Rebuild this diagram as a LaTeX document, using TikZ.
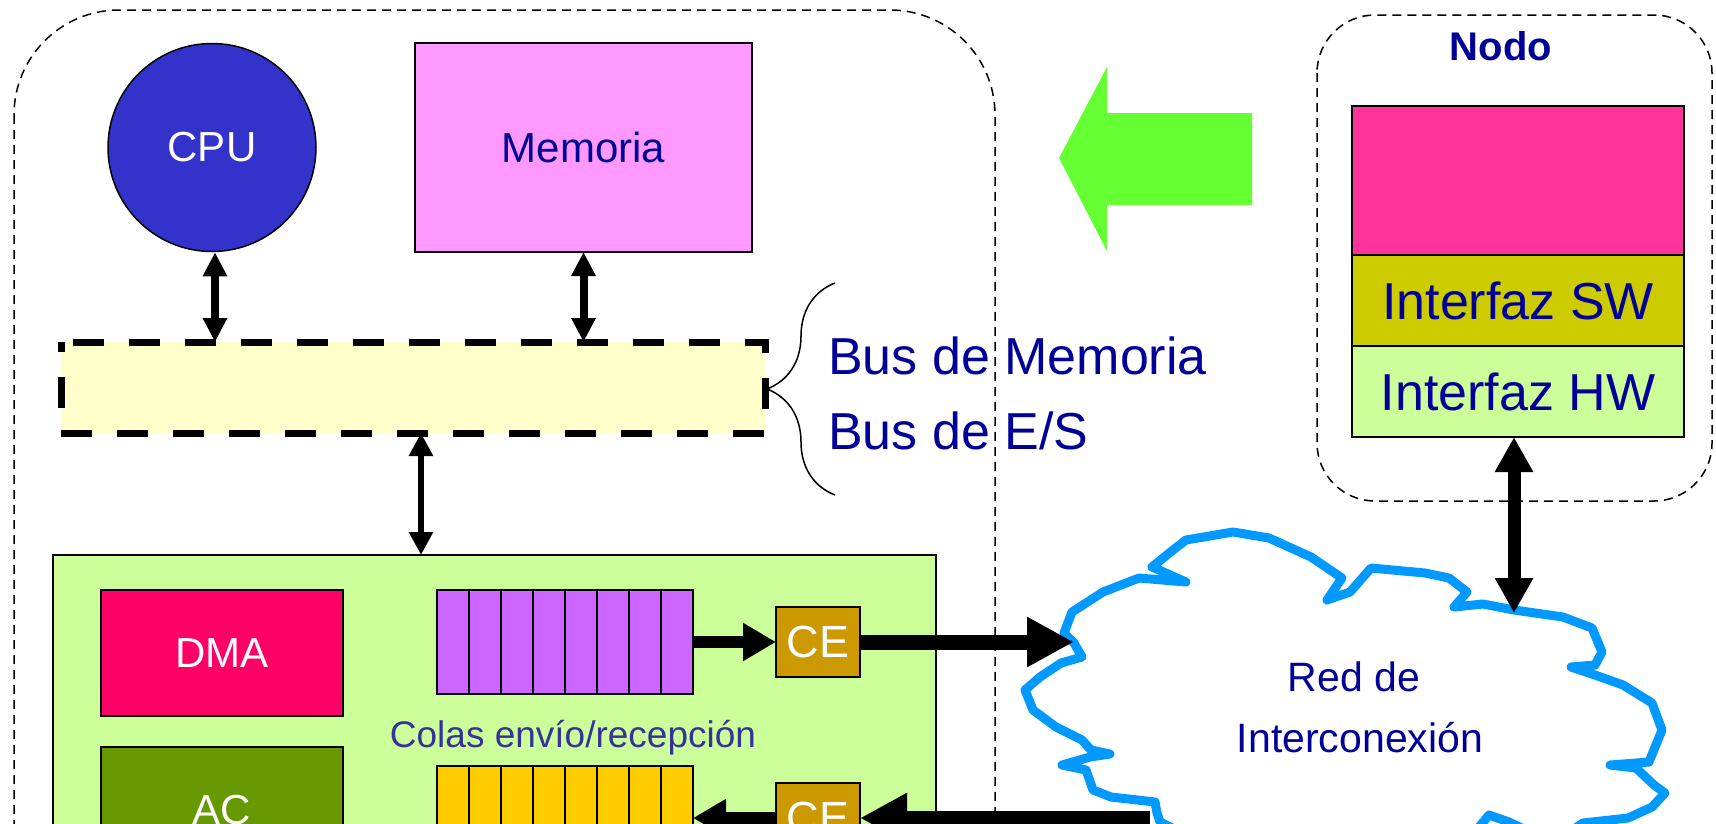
\documentclass[tikz,border=0pt]{standalone}
\usepackage{fontspec}
\setmainfont{Liberation Sans}
\usetikzlibrary{arrows.meta,decorations.pathreplacing,calc}
\definecolor{cpuc}{HTML}{3333CC}
\definecolor{memc}{HTML}{FF99FF}
\definecolor{busc}{HTML}{FFFFCC}
\definecolor{nicc}{HTML}{CCFF99}
\definecolor{dmac}{HTML}{FF0066}
\definecolor{acc}{HTML}{669900}
\definecolor{sqc}{HTML}{CC66FF}
\definecolor{rqc}{HTML}{FFCC00}
\definecolor{cec}{HTML}{CC9900}
\definecolor{bluet}{HTML}{000099}
\definecolor{colasc}{HTML}{333399}
\definecolor{cloudc}{HTML}{0099FF}
\definecolor{greenc}{HTML}{66FF33}
\definecolor{pinkc}{HTML}{FF3399}
\definecolor{swc}{HTML}{CCCC00}
\tikzset{
  box/.style={draw=black, line width=1.5pt, inner sep=0pt, outer sep=0pt},
  whitetxt/.style={text=white, font=\fontsize{42pt}{50pt}\selectfont},
  cetxt/.style={text=white, font=\fontsize{45pt}{50pt}\selectfont},
  bluetxt/.style={text=bluet, font=\fontsize{42pt}{50pt}\selectfont},
  bigtxt/.style={text=bluet, font=\fontsize{52pt}{60pt}\selectfont, inner sep=0pt},
  thindash/.style={line width=1.5pt, dash pattern=on 9pt off 6pt},
  dblsmall/.style={line width=8pt, {Triangle[length=24pt,width=23pt]}-{Triangle[length=24pt,width=23pt]}},
  dblthin/.style={line width=6pt, {Triangle[length=23pt,width=23pt]}-{Triangle[length=23pt,width=23pt]}},
  dblbig/.style={line width=13pt, {Triangle[length=35pt,width=36pt]}-{Triangle[length=35pt,width=36pt]}},
  midarrow/.style={line width=12pt, -{Triangle[length=33pt,width=36pt]}},
  bigarrow/.style={line width=15pt, -{Triangle[length=47pt,width=47pt]}},
}
\begin{document}
\begin{tikzpicture}[x=1pt,y=-1pt]
\useasboundingbox (0,0) rectangle (1716,823);
\fill[white] (0,0) rectangle (1716,823);

% outer node box
\draw[thindash, rounded corners=105pt] (14,10) rectangle (995,950);

% CPU and memory
\node[circle, draw=black, line width=1.5pt, fill=cpuc, minimum size=208pt, inner sep=0pt, whitetxt] (cpu) at (212,147.5) {CPU};
\node[box, fill=memc, minimum width=337pt, minimum height=209pt, bluetxt] (mem) at (583.5,147.5) {Memoria};

% bus
\node[fill=busc, minimum width=704pt, minimum height=91pt, inner sep=0pt, outer sep=0pt] (bus) at (413,387.5) {};
\draw[line width=7pt, dash pattern=on 31pt off 25pt, dash phase=44pt]
  (bus.north west) -- (bus.north east) -- (bus.south east) -- (bus.south west) -- cycle;

\draw[dblsmall] ([xshift=3pt]cpu.south) -- ([xshift=3pt]cpu.south |- bus.north);
\draw[dblsmall] (mem.south) -- (mem.south |- bus.north);

% brace and labels
\draw[line width=1.5pt, decorate, decoration={brace, amplitude=68pt}] (835,495) -- (835,283);
\node[anchor=base west, bigtxt] (busmem) at (828,374) {Bus de Memoria};
\node[anchor=base west, bigtxt] (buses) at (828,449) {Bus de E/S};

% NIC
\node[box, line width=1.2pt, fill=nicc, minimum width=883pt, minimum height=285pt] (nic) at (494.5,697.5) {};
\draw[dblthin] (421,433) coordinate (busout) -- (busout |- nic.north);

\node[box, fill=dmac, minimum width=242pt, minimum height=126pt, whitetxt] (dma) at (222,653) {DMA};
\node[box, fill=acc, minimum width=242pt, minimum height=126pt, whitetxt] (ac) at (222,810) {AC};

\node[box, fill=sqc, minimum width=256pt, minimum height=104pt] (sq) at (565,642) {};
\node[box, fill=rqc, minimum width=256pt, minimum height=104pt] (rq) at (565,818) {};
\foreach \i in {1,...,7} {
  \draw[line width=1.5pt] ($(sq.north west)+(32*\i,0)$) -- ($(sq.south west)+(32*\i,0)$);
  \draw[line width=1.5pt] ($(rq.north west)+(32*\i,0)$) -- ($(rq.south west)+(32*\i,0)$);
}
\node[anchor=base, text=colasc, font=\fontsize{37pt}{44pt}\selectfont, inner sep=0pt] (colas) at (573,747) {Colas envío/recepción};

\node[box, fill=cec, minimum width=84pt, minimum height=70pt, cetxt] (ce1) at (818,642) {CE};
\node[box, fill=cec, minimum width=84pt, minimum height=70pt, cetxt] (ce2) at (818,818) {CE};

% cloud
\draw[cloudc, line width=9pt, line join=round, fill=white]
  (1074,643) -- (1064,633) -- (1072,612) -- (1103,592) -- (1139,578) -- (1186,582)
  -- (1152,567) -- (1173,550) -- (1186,540) -- (1233,532) -- (1269,538) -- (1311,557)
  -- (1342,578) -- (1327,600) -- (1350,592) -- (1371,568) -- (1425,573) -- (1449,578)
  -- (1467,592) -- (1454,607) -- (1483,604) -- (1514,610) -- (1563,617) -- (1592,628)
  -- (1602,652) -- (1595,665) -- (1571,667) -- (1595,675) -- (1623,685) -- (1652,703)
  -- (1662,730) -- (1649,762) -- (1610,765) -- (1636,768) -- (1654,785) -- (1665,793)
  -- (1652,807) -- (1628,818) -- (1583,823) -- (1560,838) -- (1530,832) -- (1509,822)
  -- (1489,815) -- (1470,838) -- (1400,848) -- (1300,852) -- (1200,842) -- (1160,822)
  -- (1157,813) -- (1155,802) -- (1111,797) -- (1093,790) -- (1086,770) -- (1062,765)
  -- (1090,757) -- (1110,754) -- (1091,750) -- (1082,740) -- (1056,727) -- (1033,710)
  -- (1025,690) -- (1040,677) -- (1061,663) -- (1082,657) -- cycle;
\coordinate (cloudW) at (1074,642);
\coordinate (cloudSW) at (1150,818);
\coordinate (cloudtop) at (1514,613);
\node[anchor=base, text=bluet, font=\fontsize{41pt}{50pt}\selectfont, inner sep=0pt] (red1) at (1354,691) {Red de};
\node[anchor=base, text=bluet, font=\fontsize{41pt}{50pt}\selectfont, inner sep=0pt] (red2) at (1360,752) {Interconexión};

% NIC arrows
\draw[midarrow] (sq.east) -- (ce1.west);
\draw[bigarrow] (ce1.east) -- (cloudW);
\draw[bigarrow] (cloudSW) -- (ce2.east);
\draw[midarrow] (ce2.west) -- (rq.east);

% green arrow
\fill[greenc] (1059,158) -- (1107,67) -- (1107,113) -- (1252,113) -- (1252,205) -- (1107,205) -- (1107,251) -- cycle;

% Nodo
\draw[thindash, rounded corners=58pt] (1317,15) rectangle (1712,501);
\node[anchor=base, text=bluet, font=\bfseries\fontsize{40pt}{48pt}\selectfont, inner sep=0pt] (nodo) at (1501,60) {Nodo};
\node[box, fill=pinkc, minimum width=332pt, minimum height=149pt] (app) at (1518,180.5) {};
\node[box, fill=swc, minimum width=332pt, minimum height=91pt, bigtxt] (sw) at (1518,300.5) {Interfaz SW};
\node[box, fill=nicc, minimum width=332pt, minimum height=91pt, bigtxt] (hw) at (1518,391.5) {Interfaz HW};
\draw[dblbig] ([xshift=-4pt]hw.south) -- (cloudtop);
\end{tikzpicture}
\end{document}
